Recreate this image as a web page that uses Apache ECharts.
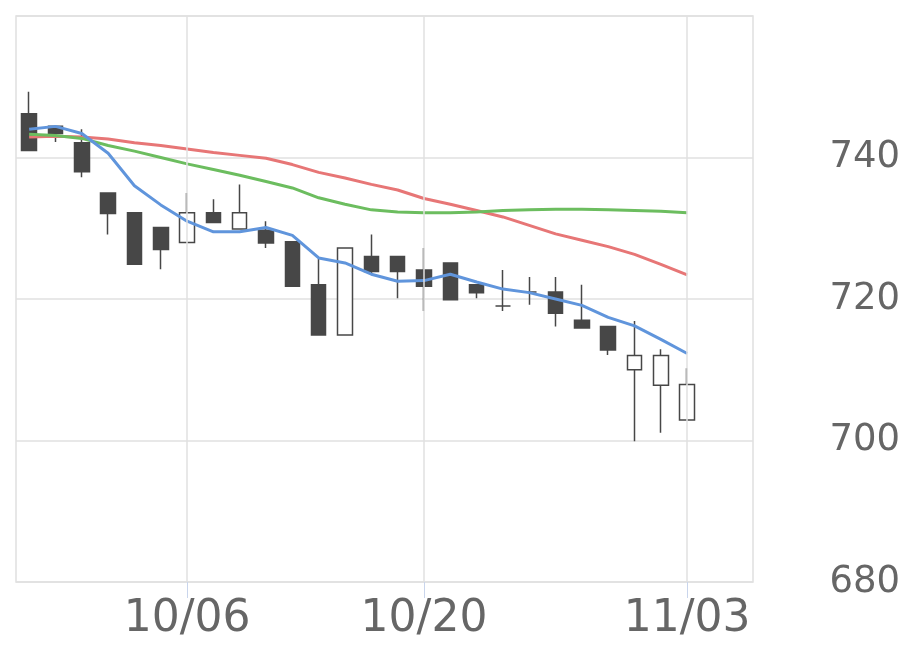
<!DOCTYPE html>
<html>
<head>
<meta charset="utf-8">
<script src="https://cdn.jsdelivr.net/npm/echarts@6/dist/echarts.min.js"></script>
<style>
html,body{margin:0;padding:0;background:#fff;}
#chart{width:920px;height:669px;}
</style>
</head>
<body>
<div id="chart"></div>
<script>
// Categories (trading days) — last two are empty padding slots
const dates = ['09/26','09/29','09/30','10/01','10/02','10/03','10/06','10/07','10/08','10/09','10/10','10/14','10/15','10/16','10/17','10/20','10/21','10/22','10/23','10/24','10/27','10/28','10/29','10/30','10/31','11/03','11/04','11/05'];
const shownLabels = ['10/06','10/20','11/03'];

const openV  = [746.2,744.4,742.1,735.0,732.2,730.1,728.0,732.2,729.9,729.7,728.1,722.0,714.9,726.0,726.0,724.1,725.1,722.0,719.0,721.0,721.0,717.0,716.1,710.0,707.8,702.9];
const closeV = [741.0,743.4,738.0,732.1,724.9,727.0,732.2,730.8,732.2,727.9,721.8,714.9,727.2,723.9,723.9,721.8,719.9,720.9,719.0,721.0,718.0,715.9,712.8,712.0,712.0,707.9];
const lowV   = [741.0,742.2,737.2,729.1,724.9,724.2,728.0,730.8,729.9,727.2,721.8,714.9,714.9,723.6,720.1,718.3,719.9,720.1,718.3,719.2,716.1,715.9,712.1,699.9,701.1,702.9];
const highV  = [749.3,744.5,744.0,735.0,732.2,730.1,735.0,734.1,736.2,731.0,728.1,725.7,727.2,729.1,726.0,727.2,725.1,722.0,724.1,723.1,723.1,722.0,716.1,716.9,712.9,710.2];

const maShort = [744.0,744.4,743.4,740.6,736.0,733.3,731.0,729.5,729.5,730.1,729.0,725.8,725.1,723.5,722.5,722.6,723.5,722.4,721.4,720.9,720.0,719.1,717.4,716.2,714.3,712.3];
const maMid   = [743.3,743.1,742.7,741.7,740.9,740.0,739.1,738.3,737.5,736.6,735.7,734.3,733.4,732.6,732.3,732.2,732.2,732.3,732.5,732.6,732.7,732.7,732.6,732.5,732.4,732.2];
const maLong  = [742.9,743.0,742.9,742.6,742.1,741.7,741.2,740.7,740.3,739.9,739.0,737.9,737.1,736.2,735.4,734.2,733.4,732.5,731.6,730.4,729.2,728.3,727.4,726.3,724.9,723.4];

const yMin = 680, yMax = 760, yStep = 20;

const candleData = openV.map((o, i) => [o, closeV[i], lowV[i], highV[i]]);

const chart = echarts.init(document.getElementById('chart'), null, {renderer: 'canvas'});
const isShown = (idx, val) => shownLabels.indexOf(val) >= 0;

chart.setOption({
  animation: false,
  backgroundColor: '#ffffff',
  textStyle: {fontFamily: 'DejaVu Sans'},
  grid: {
    left: 16, top: 16, right: 167, bottom: 87,
    show: true, borderColor: '#e0e0e0', borderWidth: 1.5, backgroundColor: 'transparent'
  },
  xAxis: {
    type: 'category',
    data: dates,
    boundaryGap: true,
    axisLine: {show: false},
    axisTick: {show: true, alignWithLabel: true, interval: isShown, length: 16, lineStyle: {color: '#c9d5ec', width: 1}},
    axisLabel: {interval: isShown, color: '#666666', fontSize: 44, margin: 16, fontFamily: 'DejaVu Sans'},
    splitLine: {show: false}
  },
  yAxis: {
    type: 'value',
    position: 'right',
    min: yMin, max: yMax, interval: yStep,
    axisLine: {show: false},
    axisTick: {show: false},
    splitLine: {show: true, lineStyle: {color: '#e0e0e0', width: 1.5}},
    axisLabel: {
      color: '#666666', fontSize: 37, align: 'right', margin: 147, fontFamily: 'DejaVu Sans',
      formatter: v => (v === yMax ? '' : String(v))
    }
  },
  series: [
    {
      type: 'line', data: [], z: 1, silent: true,
      markLine: {
        silent: true, symbol: ['none', 'none'], label: {show: false},
        lineStyle: {color: '#e0e0e0', width: 1.5, type: 'solid'},
        emphasis: {disabled: true},
        data: shownLabels.map(d => ({xAxis: d}))
      }
    },
    {
      type: 'candlestick',
      data: candleData,
      barWidth: 15,
      z: 2,
      itemStyle: {
        color: '#ffffff', color0: '#474747',
        borderColor: '#474747', borderColor0: '#474747',
        borderWidth: 1.5
      }
    },
    {type: 'line', data: maLong, symbol: 'none', smooth: false, lineStyle: {color: '#e77676', width: 3}, z: 3},
    {type: 'line', data: maMid, symbol: 'none', smooth: false, lineStyle: {color: '#6cbd5f', width: 3}, z: 3},
    {type: 'line', data: maShort, symbol: 'none', smooth: false, lineStyle: {color: '#6095dc', width: 3}, z: 3}
  ]
});
</script>
</body>
</html>
